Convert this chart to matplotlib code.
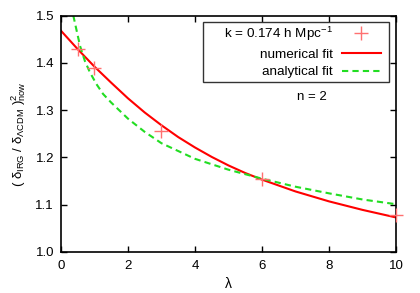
import matplotlib
matplotlib.use("Agg")
import matplotlib.pyplot as plt
from matplotlib.patches import Rectangle

plt.rcParams['font.family'] = ['Liberation Sans', 'DejaVu Sans']
plt.rcParams['mathtext.fontset'] = 'custom'
plt.rcParams['mathtext.rm'] = 'Liberation Sans'
plt.rcParams['mathtext.it'] = 'Liberation Sans'

# measured points
lam_pts = [0.5, 1, 3, 6, 10]
ratio_pts = [1.430, 1.389, 1.256, 1.155, 1.078]

# numerical fit
lam_num = [0, 0.5, 1, 1.5, 2, 2.5, 3, 3.5, 4, 4.5, 5, 5.5, 6, 7, 8, 9, 10]
ratio_num = [1.468, 1.429, 1.392, 1.358, 1.325, 1.295, 1.268, 1.243, 1.221,
             1.201, 1.183, 1.167, 1.153, 1.128, 1.107, 1.089, 1.073]

# analytical fit
lam_ana = [0.37, 0.47, 0.57, 0.715, 0.865, 1.06, 1.26, 1.5, 2, 2.5, 3, 4, 5, 6, 7, 8, 9, 10]
ratio_ana = [1.500, 1.468, 1.436, 1.404, 1.380, 1.355, 1.334, 1.316, 1.282, 1.254,
             1.230, 1.197, 1.174, 1.155, 1.138, 1.124, 1.111, 1.101]

fig = plt.figure(figsize=(4.2, 2.93), dpi=100)
ax = fig.add_axes([0.145, 0.140, 0.798, 0.807])

ax.plot(lam_pts, ratio_pts, '+', color='#ff7070', ms=9.5, mew=1.0, clip_on=False,
        label=r'k = 0.174 h Mpc$^{-1}$', zorder=3)
ax.plot(lam_num, ratio_num, '-', color='#ff0000', lw=1.5, label='numerical fit')
ax.plot(lam_ana, ratio_ana, '--', color='#22dd22', lw=1.5, dashes=(3, 2),
        label='analytical fit')

ax.set_xlim(0, 10)
ax.set_ylim(1.0, 1.5)
ax.set_xticks([0, 2, 4, 6, 8, 10])
ax.set_yticks([1.0, 1.1, 1.2, 1.3, 1.4, 1.5])
ax.set_yticklabels(['1.0', '1.1', '1.2', '1.3', '1.4', '1.5'])
ax.tick_params(direction='in', top=True, right=True, labelsize=9.5, length=4.5, width=1)
ax.tick_params(axis='x', pad=6)
ax.tick_params(axis='y', pad=5)
for s in ax.spines.values():
    s.set_linewidth(1.2)

ax.set_xlabel(r'$\lambda$', fontsize=10, labelpad=3)
ax.set_ylabel(r'( $\delta_{\rm IRG}$ / $\delta_{\Lambda{\rm CDM}}$ )$^2_{\rm now}$',
              fontsize=9.5, labelpad=5)

# gnuplot style key box
ax.add_patch(Rectangle((0.424, 0.718), 0.555, 0.254, transform=ax.transAxes,
                       fill=False, edgecolor='#333333', lw=1.0, zorder=4))
leg = ax.legend(loc='upper right', bbox_to_anchor=(0.955, 0.96), markerfirst=False,
                fontsize=9.7, frameon=False, handlelength=2.9,
                borderpad=0, labelspacing=0.38, handletextpad=0.68, borderaxespad=0)

ax.text(0.748, 0.655, 'n = 2', transform=ax.transAxes, fontsize=9.5, ha='center', va='center')

fig.savefig('out.png', dpi=100)
